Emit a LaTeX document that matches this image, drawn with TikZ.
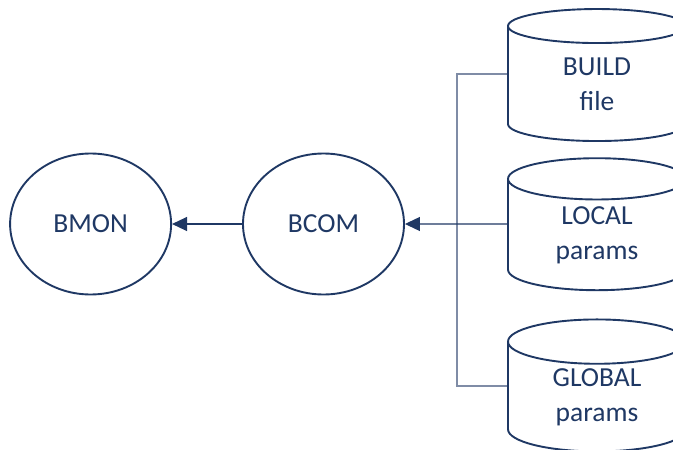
\documentclass[tikz,border=0pt]{standalone}
\usepackage{fontspec}
\setmainfont{Carlito}
\usepackage{tikz}
\usetikzlibrary{shapes.geometric,arrows.meta,positioning}
\definecolor{navy}{HTML}{1F3864}
\definecolor{busline}{HTML}{7F8CA6}
\tikzset{
    proc/.style={ellipse, draw=navy, line width=1.9pt, minimum width=161pt, minimum height=141pt, inner sep=0pt, font=\fontsize{27.5}{35}\selectfont, text=navy},
    store/.style={cylinder, shape border rotate=90, shape aspect=0.5, draw=navy, line width=1.9pt, minimum width=178pt, minimum height=132pt, inner sep=0pt, align=center, font=\fontsize{27.5}{35}\selectfont, text=navy},
    flow/.style={-{Triangle[length=15pt,width=14pt]}, navy, line width=1.2pt},
    bus/.style={busline, line width=1.3pt},
}

\begin{document}
\begin{tikzpicture}[x=1pt, y=-1pt]
    \clip (0,0) rectangle (673,450);
    \node[proc] (bcom) at (323.5,224) {BCOM};
    \node[proc, left=70pt of bcom] (bmon) {BMON};
    % cylinder text sits below the shape centre, hence the offsets
    \node[store] (build) at (597,84) {BUILD\\file};
    \node[store] (local) at (597,235) {LOCAL\\params};
    \node[store] (global) at (597,397) {GLOBAL\\params};
    \coordinate (join) at (457,224);

    \draw[bus] ([yshift=10pt]build.west) -| (join);
    \draw[bus] ([yshift=11pt]global.west) -| (join);
    \draw[flow] ([yshift=11pt]local.west) -- (bcom.east);
    \draw[flow] (bcom) -- (bmon);
\end{tikzpicture}
\end{document}
